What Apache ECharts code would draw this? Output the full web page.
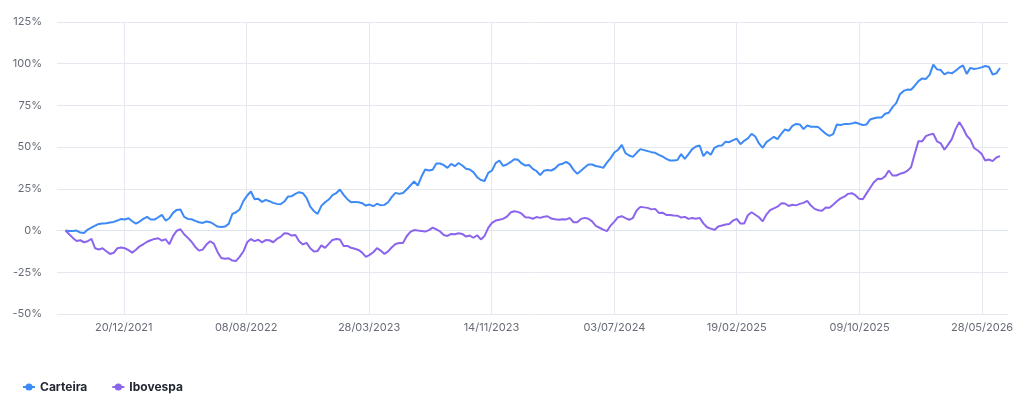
<!DOCTYPE html>
<html>
<head>
<meta charset="utf-8">
<script src="https://cdn.jsdelivr.net/npm/echarts@6/dist/echarts.min.js"></script>
<style>
html,body{margin:0;padding:0;background:#fff;}
#chart{width:1024px;height:410px;}
</style>
</head>
<body>
<div id="chart"></div>
<script>
// Weekly samples starting 2021-09-01
var START = [2021, 8, 1];
var STEP_DAYS = 7;

var carteira = [
0,-0.3,-0.2,0,-1.2,-1.4,0.6,1.8,3,4,4.2,4.4,4.8,5.2,6,7,6.6,7.4,5.6,4.2,
5.4,7,8.2,6.6,6.6,8,9.4,6,7.4,10.6,12.4,12.6,8.2,7,6.8,5.8,5,4.6,5.4,5,
3.8,2.4,2.2,2.4,4,10,11,12.8,17.8,21,23.4,18.8,19,17.2,18.4,17.6,16.6,16,15.8,17.4,
20.4,20.6,22,23,22.4,19.6,14.4,11.6,10,14.8,17,18.6,21.2,22.4,24.6,21.4,18.8,17,17.2,17,
16.4,15,15.6,14.6,16.1,15.1,15.4,17,20.2,22.6,22,22.5,24.6,27,29.4,27,32.4,36.6,36,36.4,
40.2,40.2,39.2,37.6,40,38.6,40.5,39,37,36.6,35,32,30.3,29.7,34.6,36,40.4,42,38.8,39.6,
41,42.8,42.4,40.2,39,39.3,37,35.7,33.2,35.8,36.3,36,37.2,39.4,40,41.2,39.7,36.4,34,35.8,
37.8,39.6,39.6,38.7,38.3,37.6,40.7,43.4,46.8,48.4,51.4,46.4,45,44.2,46.6,48.8,48.2,47.6,47,46.6,
45.4,44.4,43,42,42,42.3,45.8,43,45.8,48.8,50.4,51,44.6,47.3,45.4,49.6,50.8,51,53.3,53,
54.2,55,51.8,53.8,55.2,58,56.4,52.2,49.6,53,54.6,56.2,54.8,58,60.6,59.8,62.8,63.9,63.6,60.8,
63,62.2,62.2,62,60,58,56.8,57.8,63.6,63.3,63.8,63.8,64.1,64.8,64,63.2,63.6,66.6,67.3,67.8,
67.7,70,70.6,74,76.4,81.7,83.7,84.5,84.4,86.8,89.6,91.2,90.9,93.3,99.4,96.6,96.2,93.6,94.8,94.2,
95.8,97.6,99,93.9,97.5,96.8,97.2,97.8,98.6,98,93.5,94.2,97.4
];

var ibovespa = [
0,-2.2,-4.4,-6.2,-5.8,-7,-6.4,-5,-10.6,-11.3,-10.6,-12.4,-14,-13.3,-10.6,-10.2,-10.6,-11.7,-13.2,-11.5,
-9.4,-8.2,-6.7,-5.8,-5,-4.6,-6,-5.2,-8.2,-3.3,-0.1,0.8,-2.2,-4.4,-6.7,-9.8,-12,-11.4,-8.4,-6.4,
-7.8,-12.8,-16.4,-16.9,-16.6,-18,-18.2,-15.6,-12.4,-7,-5.1,-6.3,-5.5,-7.1,-5.7,-5.8,-7,-5,-3.8,-1.6,
-1.8,-3,-2.6,-6.4,-8.3,-7.4,-10.6,-12.6,-12.2,-8.9,-10.4,-8,-5.6,-5,-5.4,-9.3,-9.2,-10.3,-10.9,-11.6,
-13.2,-15.8,-14.6,-13,-10.5,-12,-14,-12.5,-10,-8,-7.5,-7.4,-3.4,-0.8,0.3,0,-0.2,-0.6,0.3,1.8,
0.7,-0.5,-2.6,-3.2,-2,-2.2,-1.6,-2,-3.6,-3,-4.3,-2.8,-5.3,-3.2,1.6,4.6,6,6.5,7,8.3,
10.8,11.6,11.2,10.1,8,7.9,7.1,8.1,7.6,8.3,8.6,7.2,6.8,6.5,6.8,6.7,7.5,5,5,7,
7.6,7.1,5.5,2.8,1.7,0.6,-0.3,3,5.4,8,8.6,7.5,6.5,7.5,12,14.2,13.9,13.6,12.7,13,
10.6,10.7,9.4,9.3,9,8.9,7.8,8.2,7,7.5,7.1,7.6,4.3,2,1.2,0.4,2.5,3,3.6,4,
6,7,4.2,4.2,9.2,11,9.5,8,5.5,9.6,12.2,13.3,14.3,16.3,16.2,14.7,15.5,15.1,16,16.6,
17.8,15,13,12.2,11.9,13.8,13.7,15.5,17.6,19.3,20.3,22,22.4,21.2,19,18.8,22.3,25.7,29,31,
30.9,32.5,36,33,33,34,34.6,35.8,38,46,53.6,53.5,56.6,57.5,58,53.5,52.3,48.5,51.5,54.8,
60.8,65,61.5,57,54.5,49.5,48,46,42,42.6,41.6,43.8,44.6
];

var tickDates = ['20/12/2021','08/08/2022','28/03/2023','14/11/2023','03/07/2024','19/02/2025','09/10/2025','28/05/2026'];
var yTicks = [-50,-25,0,25,50,75,100,125];
var X_MIN = '16/08/2021';
var X_MAX = '16/07/2026';

function parseBR(s){ var p=s.split('/'); return +new Date(+p[2], +p[1]-1, +p[0]); }
function pad(n){ return (n<10?'0':'')+n; }
function fmt(v){ var d=new Date(v); return pad(d.getDate())+'/'+pad(d.getMonth()+1)+'/'+d.getFullYear(); }
function toSeries(vals){
  return vals.map(function(v,i){ return [+new Date(START[0], START[1], START[2] + i*STEP_DAYS), v]; });
}

var tickValues = tickDates.map(parseBR);
var gridColor = '#e6e8ef';
var chart = echarts.init(document.getElementById('chart'), null, {renderer:'canvas'});
chart.setOption({
  animation:false,
  textStyle:{fontFamily:'Inter, Roboto, sans-serif'},
  grid:{left:57, right:16, top:22, bottom:96, containLabel:false},
  legend:{
    left:17, bottom:12, itemWidth:12, itemHeight:9, itemGap:24,
    textStyle:{fontSize:12, fontWeight:'bold', color:'#1f2430', fontFamily:'Inter, Roboto, sans-serif'},
    data:['Carteira','Ibovespa']
  },
  xAxis:{
    type:'value',
    min:parseBR(X_MIN), max:parseBR(X_MAX),
    axisLine:{show:true, lineStyle:{color:'#dde3f0'}},
    axisTick:{show:true, length:6, lineStyle:{color:gridColor}, customValues:tickValues},
    splitLine:{show:true, lineStyle:{color:gridColor, width:1}},
    axisLabel:{customValues:tickValues, formatter:function(v){return fmt(v);}, color:'#666b75', fontSize:11, margin:8, showMinLabel:true, showMaxLabel:true}
  },
  yAxis:{
    type:'value', min:yTicks[0], max:yTicks[yTicks.length-1], interval:25,
    axisLine:{show:false}, axisTick:{show:false},
    splitLine:{lineStyle:{color:gridColor, width:1}},
    axisLabel:{formatter:'{value}%', color:'#666b75', fontSize:11, margin:15}
  },
  series:[
    {name:'Carteira', type:'line', data:toSeries(carteira), symbol:'circle', symbolSize:7, showSymbol:false,
     lineStyle:{width:2, color:'#3d8af7'}, itemStyle:{color:'#3d8af7'}},
    {name:'Ibovespa', type:'line', data:toSeries(ibovespa), symbol:'circle', symbolSize:7, showSymbol:false,
     lineStyle:{width:2, color:'#8b65ec'}, itemStyle:{color:'#8b65ec'}}
  ]
});
</script>
</body>
</html>
